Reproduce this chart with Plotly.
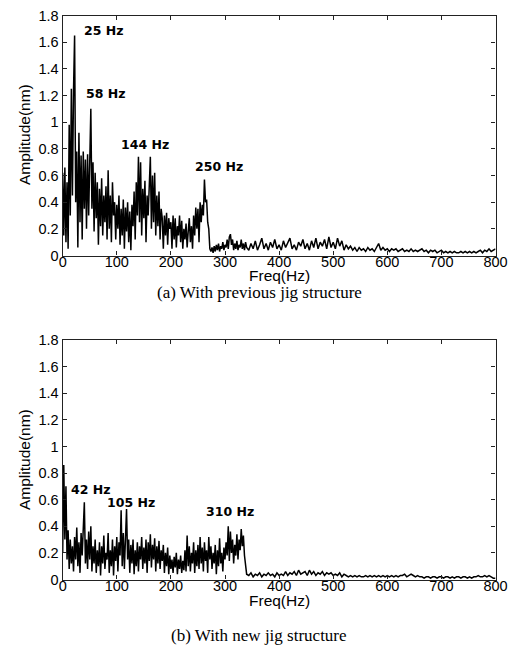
import numpy as np
import plotly.graph_objects as go

# ---------------- data ----------------
# dense part: 0..340 Hz every 2 Hz ; tail: 344..800 Hz every 4 Hz
freq_dense = list(range(0, 341, 2))
freq_tail = list(range(344, 801, 4))

amp_prev_dense = [
    0.62, 0.15, 0.66, 0.10, 0.55, 0.05, 0.98, 0.30, 1.25, 0.45,
    1.24, 1.65, 0.40, 0.78, 0.06, 0.92, 0.25, 0.75, 0.12, 0.78,
    0.35, 0.72, 0.20, 0.76, 0.30, 0.82, 1.10, 0.35, 0.70, 0.18,
    0.62, 0.28, 0.55, 0.08, 0.50, 0.22, 0.58, 0.15, 0.45, 0.25,
    0.52, 0.12, 0.64, 0.20, 0.45, 0.10, 0.55, 0.30, 0.40, 0.12,
    0.38, 0.20, 0.45, 0.08, 0.35, 0.15, 0.42, 0.05, 0.36, 0.18,
    0.40, 0.10, 0.33, 0.04, 0.38, 0.22, 0.48, 0.12, 0.55, 0.30,
    0.74, 0.25, 0.70, 0.15, 0.50, 0.28, 0.56, 0.10, 0.45, 0.30,
    0.52, 0.74, 0.20, 0.60, 0.25, 0.62, 0.15, 0.45, 0.22, 0.48,
    0.12, 0.35, 0.28, 0.05, 0.30, 0.15, 0.32, 0.08, 0.28, 0.20,
    0.25, 0.05, 0.30, 0.12, 0.28, 0.06, 0.22, 0.15, 0.30, 0.10,
    0.26, 0.05, 0.20, 0.12, 0.24, 0.06, 0.18, 0.28, 0.10, 0.22,
    0.05, 0.30, 0.15, 0.36, 0.20, 0.35, 0.10, 0.40, 0.25, 0.38,
    0.30, 0.57, 0.40, 0.42, 0.25, 0.20, 0.05, 0.03, 0.06, 0.02,
    0.07, 0.03, 0.08, 0.04, 0.09, 0.03, 0.07, 0.05, 0.10, 0.04,
    0.08, 0.06, 0.12, 0.05, 0.14, 0.16, 0.08, 0.12, 0.04, 0.09,
    0.05, 0.11, 0.04, 0.08, 0.06, 0.12, 0.05, 0.09, 0.04, 0.10,
    0.06,
]
amp_prev_tail = [
    0.04, 0.09, 0.05, 0.11, 0.04, 0.08, 0.13, 0.05, 0.09, 0.04, 0.10, 0.06, 0.12, 0.05, 0.08,
    0.04, 0.11, 0.06, 0.09, 0.13, 0.05, 0.08, 0.04, 0.10, 0.07, 0.12, 0.05, 0.09, 0.04, 0.11,
    0.06, 0.13, 0.05, 0.10, 0.07, 0.12, 0.05, 0.14, 0.06, 0.10,
    0.05, 0.13, 0.07, 0.11, 0.04, 0.08, 0.05, 0.07, 0.04, 0.06, 0.03, 0.06, 0.04, 0.05, 0.03,
    0.06, 0.04, 0.05, 0.03, 0.06, 0.09, 0.04, 0.06, 0.04, 0.05,
    0.03, 0.05, 0.04, 0.05, 0.03, 0.04, 0.05, 0.03, 0.04, 0.03, 0.05, 0.03, 0.04, 0.03, 0.04,
    0.05, 0.03, 0.04, 0.02, 0.04, 0.03, 0.04, 0.02, 0.03, 0.04,
    0.02, 0.03, 0.02, 0.03, 0.02, 0.03, 0.02, 0.02, 0.03, 0.02, 0.03, 0.02, 0.03, 0.02, 0.03,
    0.02, 0.03, 0.04, 0.02, 0.04, 0.03, 0.05, 0.03, 0.04, 0.05,
]

amp_new_dense = [
    0.20, 0.86, 0.30, 0.70, 0.15, 0.37, 0.08, 0.30, 0.12, 0.25,
    0.06, 0.32, 0.15, 0.39, 0.10, 0.28, 0.05, 0.35, 0.18, 0.42,
    0.58, 0.12, 0.30, 0.08, 0.36, 0.15, 0.40, 0.06, 0.25, 0.12,
    0.30, 0.05, 0.22, 0.10, 0.28, 0.03, 0.25, 0.12, 0.33, 0.08,
    0.20, 0.15, 0.35, 0.05, 0.22, 0.10, 0.30, 0.03, 0.25, 0.14,
    0.32, 0.06, 0.28, 0.18, 0.52, 0.10, 0.35, 0.08, 0.42, 0.53,
    0.15, 0.30, 0.05, 0.26, 0.12, 0.30, 0.04, 0.22, 0.10, 0.28,
    0.06, 0.25, 0.15, 0.32, 0.08, 0.24, 0.12, 0.30, 0.05, 0.28,
    0.14, 0.34, 0.09, 0.26, 0.15, 0.31, 0.06, 0.25, 0.12, 0.29,
    0.08, 0.22, 0.14, 0.26, 0.05, 0.20, 0.10, 0.24, 0.04, 0.18,
    0.08, 0.15, 0.05, 0.17, 0.09, 0.20, 0.04, 0.15, 0.08, 0.18,
    0.05, 0.14, 0.07, 0.22, 0.06, 0.33, 0.10, 0.25, 0.06, 0.20,
    0.12, 0.28, 0.05, 0.22, 0.10, 0.26, 0.08, 0.32, 0.12, 0.24,
    0.06, 0.28, 0.14, 0.22, 0.05, 0.32, 0.15, 0.25, 0.08, 0.20,
    0.12, 0.26, 0.04, 0.22, 0.10, 0.31, 0.12, 0.20, 0.06, 0.24,
    0.15, 0.28, 0.18, 0.40, 0.14, 0.36, 0.20, 0.30, 0.12, 0.26,
    0.18, 0.34, 0.15, 0.30, 0.22, 0.38, 0.25, 0.33, 0.18, 0.10,
    0.04,
]
amp_new_tail = [
    0.03, 0.05, 0.02, 0.04, 0.03, 0.05, 0.02, 0.04, 0.03, 0.05, 0.03, 0.04, 0.02, 0.05, 0.03,
    0.04, 0.03, 0.06, 0.03, 0.05, 0.04, 0.06, 0.03, 0.07, 0.04, 0.05, 0.06, 0.03, 0.07, 0.04,
    0.06, 0.03, 0.05, 0.04, 0.06, 0.03, 0.05, 0.04, 0.05, 0.03,
    0.04, 0.03, 0.05, 0.02, 0.04, 0.03, 0.02, 0.03, 0.02, 0.03, 0.02, 0.03, 0.02, 0.02, 0.03,
    0.02, 0.03, 0.02, 0.03, 0.02, 0.03, 0.02, 0.03, 0.02, 0.03,
    0.02, 0.03, 0.02, 0.03, 0.02, 0.03, 0.03, 0.04, 0.02, 0.03, 0.04, 0.03, 0.02, 0.03, 0.02,
    0.02, 0.01, 0.02, 0.02, 0.01, 0.02, 0.02, 0.01, 0.02, 0.02,
    0.01, 0.02, 0.02, 0.01, 0.02, 0.01, 0.02, 0.02, 0.01, 0.02, 0.02, 0.01, 0.02, 0.01, 0.02,
    0.02, 0.03, 0.02, 0.02, 0.03, 0.02, 0.03, 0.02, 0.01, 0.01,
]

peak_labels_prev = ["25 Hz", "58 Hz", "144 Hz", "250 Hz"]
peak_x_prev = [75, 79, 152, 289]
peak_y_prev = [1.69, 1.215, 0.83, 0.67]

peak_labels_new = ["42 Hz", "105 Hz", "310 Hz"]
peak_x_new = [51, 127, 310]
peak_y_new = [0.68, 0.58, 0.51]

x_ticks = [0, 100, 200, 300, 400, 500, 600, 700, 800]
y_ticks = [0, 0.2, 0.4, 0.6, 0.8, 1, 1.2, 1.4, 1.6, 1.8]
y_tick_text = ["0", "0.2", "0.4", "0.6", "0.8", "1", "1.2", "1.4", "1.6", "1.8"]

captions = ["(a) With previous jig structure", "(b) With new jig structure"]

# ---------------- figure ----------------
# the page body keeps the browser's default 8 px margin, so the figure is
# drawn 8 px in from the top-left corner of the 517x655 window
OFF = 8
W, H = 517 - OFF, 655 - OFF
fig = go.Figure()

fx = freq_dense + freq_tail
fig.add_trace(go.Scatter(x=fx, y=amp_prev_dense + amp_prev_tail, mode="lines",
                         line=dict(color="black", width=1.5), xaxis="x", yaxis="y",
                         showlegend=False))
fig.add_trace(go.Scatter(x=fx, y=amp_new_dense + amp_new_tail, mode="lines",
                         line=dict(color="black", width=1.5), xaxis="x2", yaxis="y2",
                         showlegend=False))

def px(p):
    return (p - OFF) / W

def py(p):
    return 1 - (p - OFF) / H

x_dom = [px(62.7), px(495.5)]
top_dom = [py(255.5), py(15.5)]
bot_dom = [py(579.5), py(340)]

axis_common = dict(showline=True, linecolor="#222", linewidth=1.3, mirror="ticks",
                   ticks="inside", ticklen=4, tickcolor="#222", tickwidth=1,
                   showgrid=False, zeroline=False, automargin=False,
                   ticklabeloverflow="allow",
                   tickfont=dict(family="Liberation Sans, Arial", size=14.5, color="black"))

fig.update_layout(
    width=W, height=H,
    margin=dict(l=0, r=0, t=0, b=0),
    paper_bgcolor="white", plot_bgcolor="white",
    xaxis=dict(domain=x_dom, range=[0, 800], tickvals=x_ticks, anchor="y",
               ticklabelstandoff=-7, **axis_common),
    yaxis=dict(domain=top_dom, range=[0, 1.8], tickvals=y_ticks, ticktext=y_tick_text,
               anchor="x", **axis_common),
    xaxis2=dict(domain=x_dom, range=[0, 800], tickvals=x_ticks, anchor="y2",
                ticklabelstandoff=-7, **axis_common),
    yaxis2=dict(domain=bot_dom, range=[0, 1.8], tickvals=y_ticks, ticktext=y_tick_text,
                anchor="x2", **axis_common),
)

ann = []
lab_font = dict(family="DejaVu Sans", size=12.5, color="black")
for t, xv, yv in zip(peak_labels_prev, peak_x_prev, peak_y_prev):
    ann.append(dict(x=xv, y=yv, xref="x", yref="y", text="<b>%s</b>" % t,
                    showarrow=False, font=lab_font))
for t, xv, yv in zip(peak_labels_new, peak_x_new, peak_y_new):
    ann.append(dict(x=xv, y=yv, xref="x2", yref="y2", text="<b>%s</b>" % t,
                    showarrow=False, font=lab_font))

title_font = dict(family="Liberation Sans, Arial", size=15.5, color="black")
xc = px((62.7 + 495.5) / 2)
for ycen in [275, 600]:
    ann.append(dict(x=xc, y=py(ycen), xref="paper", yref="paper", text="Freq(Hz)",
                    showarrow=False, font=title_font, yanchor="middle"))
for ycen in [135, 460]:
    ann.append(dict(x=px(25), y=py(ycen), xref="paper", yref="paper", text="Amplitude(nm)",
                    showarrow=False, font=title_font, textangle=-90,
                    xanchor="center", yanchor="middle"))

cap_font = dict(family="Liberation Serif, Times New Roman", size=17, color="black")
for t, ycen in zip(captions, [292, 635]):
    ann.append(dict(x=px(259), y=py(ycen), xref="paper", yref="paper", text=t,
                    showarrow=False, font=cap_font, yanchor="middle"))

fig.update_layout(annotations=ann)
fig.write_html("out.html")
